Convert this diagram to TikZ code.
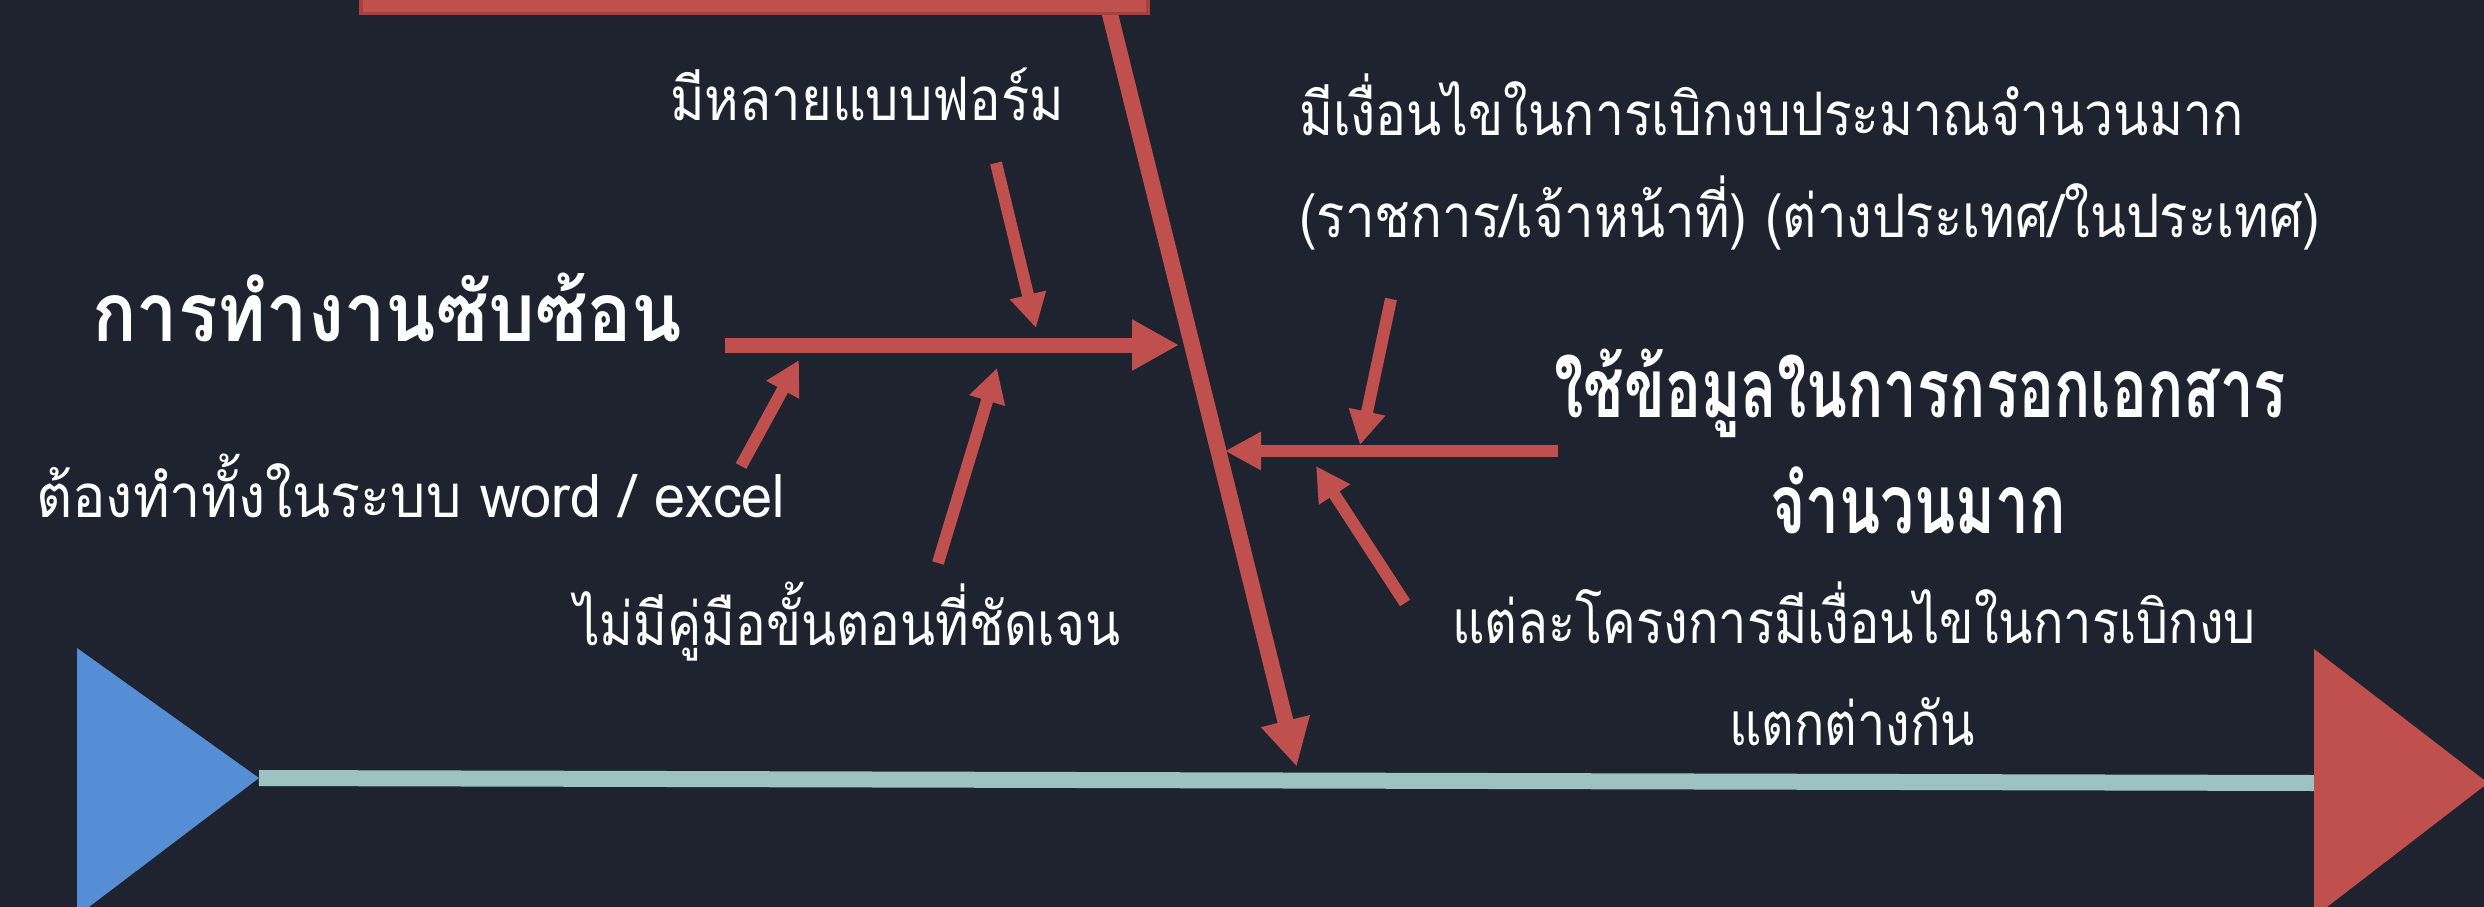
\documentclass[tikz,border=0pt]{standalone}
\usepackage{fontspec}
\usetikzlibrary{arrows.meta}
\newfontfamily\thai[Script=Thai]{Loma}
\definecolor{bg}{HTML}{1F2330}
\definecolor{bone}{HTML}{C0504D}
\definecolor{boneDark}{HTML}{A3423F}
\definecolor{spinecol}{HTML}{9DC3C0}
\definecolor{headBlue}{HTML}{558ED5}
\newlength\natw
\newcommand\fitw[2]{\settowidth\natw{#2}\pgfmathsetmacro\fitr{#1/\natw}\scalebox{\fitr}[1]{#2}}
\tikzset{
  bonebig/.style={draw=bone, line width=16pt, -{Triangle[length=47pt,width=47pt]}},
  bonemid/.style={draw=bone, line width=15pt, -{Triangle[length=47pt,width=48pt]}},
  boneside/.style={draw=bone, line width=12pt, -{Triangle[length=36pt,width=36pt]}},
  causearrow/.style={draw=bone, line width=12pt, -{Triangle[length=34pt,width=35pt]}},
  lbl/.style={text=white, inner sep=0pt, font=\thai\fontsize{60}{72}\selectfont},
  lblbig/.style={text=white, inner sep=0pt, font=\thai\bfseries\fontsize{82}{96}\selectfont},
}
\begin{document}
\begin{tikzpicture}[x=1pt,y=-1pt]
\fill[bg] (0,0) rectangle (2484,907);
\useasboundingbox (0,0) rectangle (2484,907);
% coordinates
\coordinate (spineTop) at (1104,-10);
\coordinate (spineTip) at (1296.7,766.7);
\coordinate (ulStart) at (725,345);
\coordinate (ulTip) at (1179,345);
\coordinate (rStart) at (1558,451);
\coordinate (rTip) at (1225,451);
\coordinate (a1s) at (996,163);   \coordinate (a1t) at (1036,328);
\coordinate (a2s) at (741,466);   \coordinate (a2t) at (799,360);
\coordinate (a3s) at (938,563);   \coordinate (a3t) at (997,368);
\coordinate (a4s) at (1391,299);  \coordinate (a4t) at (1360,445);
\coordinate (a5s) at (1405,603);  \coordinate (a5t) at (1316,466);
\coordinate (lineL) at (259,778);
\coordinate (lineR) at (2314,783);
% main horizontal line and end triangles
\draw[spinecol, line width=16pt] (lineL) -- (lineR);
\fill[headBlue] (77,648) -- (lineL) -- (77,916) -- cycle;
\fill[bone] (2314,649) -- (2488,783) -- (2314,917) -- cycle;
% diagonal spine
\draw[bonebig] (spineTop) -- (spineTip);
% head box
\filldraw[fill=bone, draw=boneDark, line width=3.5pt] (361,-20) rectangle (1148,13.3);
% bones
\draw[bonemid] (ulStart) -- (ulTip);
\draw[boneside] (rStart) -- (rTip);
\draw[causearrow] (a1s) -- (a1t);
\draw[causearrow] (a2s) -- (a2t);
\draw[causearrow] (a3s) -- (a3t);
\draw[causearrow] (a4s) -- (a4t);
\draw[causearrow] (a5s) -- (a5t);
% labels
\node[lbl, anchor=base west] (t1) at (670,120) {\fitw{394}{มีหลายแบบฟอร์ม}};
\node[lblbig, anchor=base west] (t2) at (92,341) {\fitw{590}{การทำงานซับซ้อน}};
\node[lbl, anchor=base west] (t3a) at (1299,135) {\fitw{944}{มีเงื่อนไขในการเบิกงบประมาณจำนวนมาก}};
\node[lbl, anchor=base west] (t3b) at (1299,237) {\fitw{1021}{(ราชการ/เจ้าหน้าที่) (ต่างประเทศ/ในประเทศ)}};
\node[lbl, anchor=base west] (t4) at (36,517) {\fitw{749}{ต้องทำทั้งในระบบ word / excel}};
\node[lbl, anchor=base] (t5a) at (1854,643) {\fitw{804}{แต่ละโครงการมีเงื่อนไขในการเบิกงบ}};
\node[lbl, anchor=base] (t5b) at (1852,745) {\fitw{246}{แตกต่างกัน}};
\node[lbl, anchor=base west] (t6) at (574,645) {\fitw{546}{ไม่มีคู่มือขั้นตอนที่ชัดเจน}};
\node[lblbig, anchor=base] (t7) at (1920,417) {\fitw{732}{ใช้ข้อมูลในการกรอกเอกสาร}};
\node[lblbig, anchor=base] (t8) at (1918,533) {\fitw{296}{จำนวนมาก}};
\end{tikzpicture}
\end{document}
